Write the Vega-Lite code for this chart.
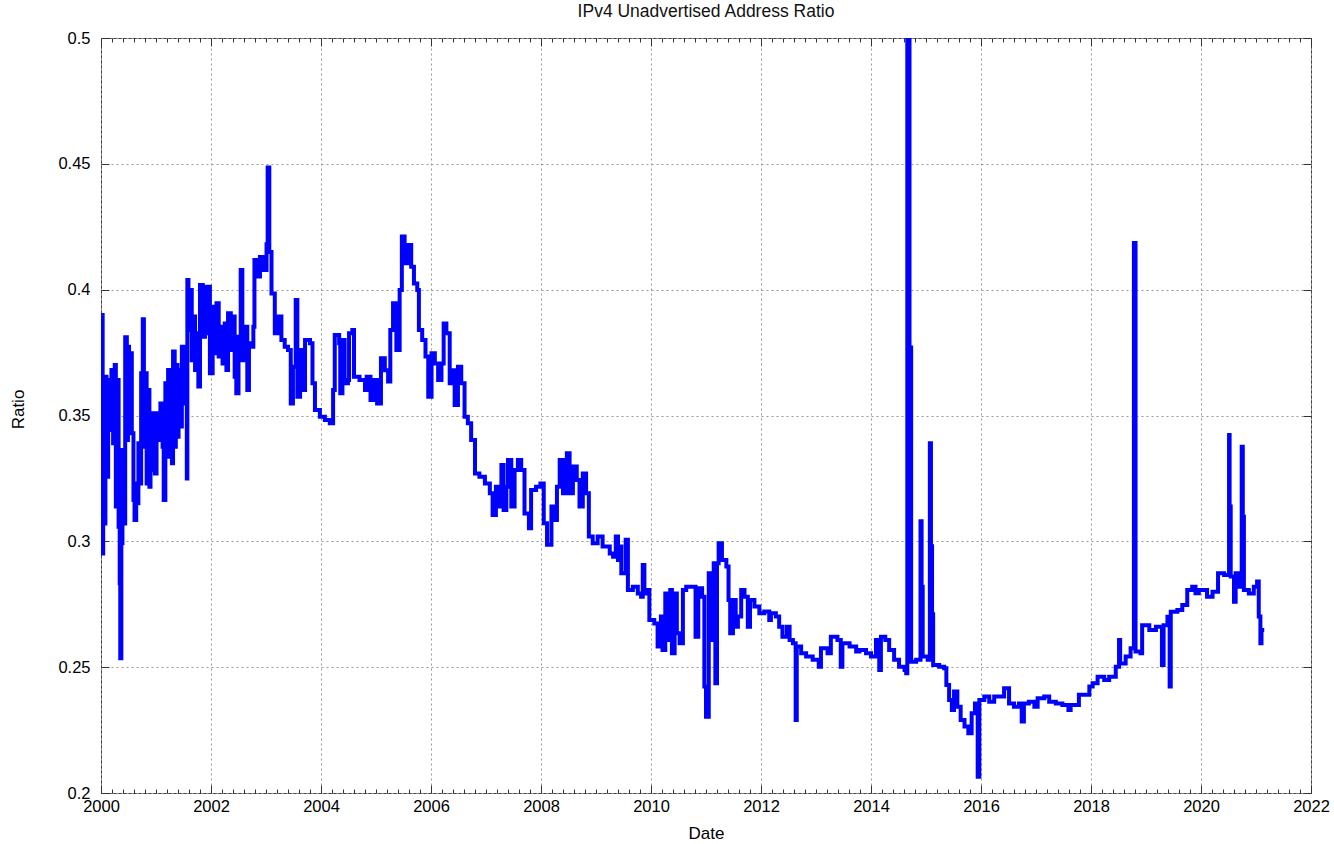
{
  "$schema": "https://vega.github.io/schema/vega-lite/v6.json",
  "width": 1210,
  "height": 755,
  "autosize": {"type": "none"},
  "padding": {"left": 101, "top": 38, "right": 23, "bottom": 51},
  "background": "white",
  "title": {"text": "IPv4 Unadvertised Address Ratio", "fontSize": 17.5, "fontWeight": "normal", "font": "Liberation Sans", "color": "#111111", "offset": 10},
  "config": {"view": {"stroke": "#444444", "strokeWidth": 1}, "font": "Liberation Sans"},
  "data": {"values": [
    {"t":2000.00,"v":0.3363},{"t":2000.018,"v":0.3899},{"t":2000.03,"v":0.2952},{"t":2000.04,"v":0.3469},{"t":2000.06,"v":0.3071},{"t":2000.08,"v":0.3654},{"t":2000.10,"v":0.3257},{"t":2000.13,"v":0.3641},{"t":2000.16,"v":0.3442},{"t":2000.19,"v":0.3681},{"t":2000.22,"v":0.3390},{"t":2000.25,"v":0.3701},{"t":2000.27,"v":0.3138},{"t":2000.30,"v":0.3641},{"t":2000.32,"v":0.3058},{"t":2000.34,"v":0.2833},{"t":2000.35,"v":0.2535},{"t":2000.37,"v":0.2992},{"t":2000.39,"v":0.3363},{"t":2000.42,"v":0.3071},{"t":2000.44,"v":0.3811},{"t":2000.47,"v":0.3403},{"t":2000.49,"v":0.3773},{"t":2000.51,"v":0.3442},{"t":2000.54,"v":0.3747},{"t":2000.56,"v":0.3429},{"t":2000.59,"v":0.3164},{"t":2000.61,"v":0.3085},{"t":2000.64,"v":0.3230},{"t":2000.66,"v":0.3151},{"t":2000.68,"v":0.3390},{"t":2000.71,"v":0.3230},{"t":2000.73,"v":0.3668},{"t":2000.76,"v":0.3882},{"t":2000.78,"v":0.3376},{"t":2000.81,"v":0.3668},{"t":2000.83,"v":0.3230},{"t":2000.85,"v":0.3601},{"t":2000.88,"v":0.3217},{"t":2000.90,"v":0.3469},{"t":2000.93,"v":0.3283},{"t":2000.95,"v":0.3509},{"t":2000.98,"v":0.3270},
    {"t":2001.01,"v":0.3509},{"t":2001.05,"v":0.3403},{"t":2001.08,"v":0.3548},{"t":2001.12,"v":0.3376},{"t":2001.14,"v":0.3164},{"t":2001.17,"v":0.3628},{"t":2001.19,"v":0.3416},{"t":2001.22,"v":0.3681},{"t":2001.24,"v":0.3336},{"t":2001.27,"v":0.3654},{"t":2001.29,"v":0.3310},{"t":2001.31,"v":0.3754},{"t":2001.34,"v":0.3376},{"t":2001.36,"v":0.3701},{"t":2001.39,"v":0.3416},{"t":2001.41,"v":0.3681},{"t":2001.44,"v":0.3456},{"t":2001.47,"v":0.3773},{"t":2001.50,"v":0.3628},{"t":2001.53,"v":0.3548},{"t":2001.56,"v":0.3250},{"t":2001.57,"v":0.4038},{"t":2001.59,"v":0.3840},{"t":2001.62,"v":0.3999},{"t":2001.65,"v":0.3720},{"t":2001.68,"v":0.3893},{"t":2001.71,"v":0.3681},{"t":2001.74,"v":0.3827},{"t":2001.77,"v":0.3615},{"t":2001.80,"v":0.4019},{"t":2001.85,"v":0.3813},{"t":2001.89,"v":0.4012},{"t":2001.92,"v":0.3827},{"t":2001.95,"v":0.4012},{"t":2001.98,"v":0.3668},
    {"t":2002.03,"v":0.3932},{"t":2002.07,"v":0.3747},{"t":2002.10,"v":0.3946},{"t":2002.14,"v":0.3734},{"t":2002.17,"v":0.3853},{"t":2002.21,"v":0.3707},{"t":2002.25,"v":0.3866},{"t":2002.28,"v":0.3681},{"t":2002.31,"v":0.3906},{"t":2002.36,"v":0.3760},{"t":2002.39,"v":0.3893},{"t":2002.43,"v":0.3654},{"t":2002.46,"v":0.3588},{"t":2002.50,"v":0.3813},{"t":2002.54,"v":0.4078},{"t":2002.57,"v":0.3720},{"t":2002.62,"v":0.3853},{"t":2002.66,"v":0.3601},{"t":2002.69,"v":0.3787},{"t":2002.74,"v":0.3773},{"t":2002.77,"v":0.3853},{"t":2002.79,"v":0.4118},{"t":2002.83,"v":0.4052},{"t":2002.89,"v":0.4130},{"t":2002.95,"v":0.4078},
    {"t":2003.01,"v":0.4180},{"t":2003.03,"v":0.4485},{"t":2003.06,"v":0.4150},{"t":2003.10,"v":0.3985},{"t":2003.16,"v":0.3827},{"t":2003.22,"v":0.3893},{"t":2003.28,"v":0.3800},{"t":2003.34,"v":0.3773},{"t":2003.40,"v":0.3760},{"t":2003.45,"v":0.3548},{"t":2003.49,"v":0.3694},{"t":2003.54,"v":0.3959},{"t":2003.57,"v":0.3575},{"t":2003.62,"v":0.3760},{"t":2003.68,"v":0.3601},{"t":2003.71,"v":0.3800},{"t":2003.80,"v":0.3787},{"t":2003.845,"v":0.3628},{"t":2003.89,"v":0.3522},{"t":2003.98,"v":0.3495},
    {"t":2004.07,"v":0.3482},{"t":2004.16,"v":0.3469},{"t":2004.22,"v":0.3601},{"t":2004.25,"v":0.3820},{"t":2004.33,"v":0.3787},{"t":2004.35,"v":0.3588},{"t":2004.39,"v":0.3800},{"t":2004.43,"v":0.3628},{"t":2004.49,"v":0.3641},{"t":2004.51,"v":0.3827},{"t":2004.57,"v":0.3840},{"t":2004.60,"v":0.3654},{"t":2004.70,"v":0.3641},{"t":2004.80,"v":0.3601},{"t":2004.83,"v":0.3654},{"t":2004.90,"v":0.3562},{"t":2004.96,"v":0.3641},
    {"t":2005.02,"v":0.3548},{"t":2005.09,"v":0.3727},{"t":2005.16,"v":0.3680},{"t":2005.22,"v":0.3635},{"t":2005.26,"v":0.3840},{"t":2005.31,"v":0.3946},{"t":2005.37,"v":0.3760},{"t":2005.43,"v":0.3999},{"t":2005.47,"v":0.4211},{"t":2005.52,"v":0.4105},{"t":2005.58,"v":0.4177},{"t":2005.64,"v":0.4091},{"t":2005.69,"v":0.4025},{"t":2005.75,"v":0.3999},{"t":2005.78,"v":0.3840},{"t":2005.84,"v":0.3800},{"t":2005.90,"v":0.3734},{"t":2005.95,"v":0.3575},
    {"t":2006.01,"v":0.3747},{"t":2006.07,"v":0.3707},{"t":2006.13,"v":0.3641},{"t":2006.19,"v":0.3707},{"t":2006.23,"v":0.3866},{"t":2006.28,"v":0.3827},{"t":2006.34,"v":0.3628},{"t":2006.39,"v":0.3680},{"t":2006.43,"v":0.3542},{"t":2006.49,"v":0.3694},{"t":2006.55,"v":0.3628},{"t":2006.61,"v":0.3495},{"t":2006.67,"v":0.3469},{"t":2006.73,"v":0.3403},{"t":2006.80,"v":0.3270},{"t":2006.88,"v":0.3257},{"t":2006.98,"v":0.3230},
    {"t":2007.07,"v":0.3191},{"t":2007.12,"v":0.3105},{"t":2007.18,"v":0.3217},{"t":2007.24,"v":0.3138},{"t":2007.28,"v":0.3303},{"t":2007.32,"v":0.3125},{"t":2007.37,"v":0.3217},{"t":2007.40,"v":0.3323},{"t":2007.46,"v":0.3138},{"t":2007.52,"v":0.3283},{"t":2007.58,"v":0.3323},{"t":2007.64,"v":0.3283},{"t":2007.70,"v":0.3111},{"t":2007.78,"v":0.3052},{"t":2007.82,"v":0.3204},{"t":2007.91,"v":0.3217},{"t":2007.99,"v":0.3230},
    {"t":2008.05,"v":0.3072},{"t":2008.11,"v":0.2986},{"t":2008.19,"v":0.3138},{"t":2008.25,"v":0.3085},{"t":2008.29,"v":0.3217},{"t":2008.34,"v":0.3323},{"t":2008.40,"v":0.3191},{"t":2008.47,"v":0.3350},{"t":2008.52,"v":0.3191},{"t":2008.58,"v":0.3297},{"t":2008.65,"v":0.3244},{"t":2008.70,"v":0.3138},{"t":2008.76,"v":0.3270},{"t":2008.82,"v":0.3191},{"t":2008.87,"v":0.3019},{"t":2008.94,"v":0.2992},
    {"t":2009.03,"v":0.3019},{"t":2009.12,"v":0.2979},{"t":2009.25,"v":0.2952},{"t":2009.31,"v":0.2939},{"t":2009.36,"v":0.3019},{"t":2009.40,"v":0.2926},{"t":2009.43,"v":0.2979},{"t":2009.46,"v":0.2873},{"t":2009.54,"v":0.3006},{"t":2009.58,"v":0.2807},{"t":2009.67,"v":0.2820},{"t":2009.76,"v":0.2793},{"t":2009.82,"v":0.2780},{"t":2009.85,"v":0.2906},{"t":2009.88,"v":0.2793},{"t":2009.94,"v":0.2807},{"t":2009.97,"v":0.2687},
    {"t":2010.06,"v":0.2674},{"t":2010.12,"v":0.2582},{"t":2010.18,"v":0.2701},{"t":2010.21,"v":0.2568},{"t":2010.26,"v":0.2793},{"t":2010.31,"v":0.2608},{"t":2010.35,"v":0.2807},{"t":2010.38,"v":0.2555},{"t":2010.43,"v":0.2793},{"t":2010.47,"v":0.2635},{"t":2010.52,"v":0.2595},{"t":2010.58,"v":0.2807},{"t":2010.64,"v":0.2820},{"t":2010.73,"v":0.2820},{"t":2010.81,"v":0.2621},{"t":2010.86,"v":0.2814},{"t":2010.93,"v":0.2780},{"t":2010.97,"v":0.2423},
    {"t":2011.00,"v":0.2303},{"t":2011.05,"v":0.2873},{"t":2011.09,"v":0.2608},{"t":2011.14,"v":0.2913},{"t":2011.17,"v":0.2436},{"t":2011.20,"v":0.2913},{"t":2011.23,"v":0.2992},{"t":2011.29,"v":0.2926},{"t":2011.37,"v":0.2900},{"t":2011.41,"v":0.2767},{"t":2011.44,"v":0.2635},{"t":2011.49,"v":0.2767},{"t":2011.54,"v":0.2661},{"t":2011.58,"v":0.2701},{"t":2011.64,"v":0.2807},{"t":2011.70,"v":0.2780},{"t":2011.76,"v":0.2661},{"t":2011.80,"v":0.2767},{"t":2011.88,"v":0.2741},{"t":2011.97,"v":0.2714},
    {"t":2012.06,"v":0.2721},{"t":2012.15,"v":0.2687},{"t":2012.18,"v":0.2714},{"t":2012.27,"v":0.2701},{"t":2012.33,"v":0.2661},{"t":2012.39,"v":0.2621},{"t":2012.47,"v":0.2661},{"t":2012.52,"v":0.2608},{"t":2012.58,"v":0.2595},{"t":2012.63,"v":0.2290},{"t":2012.65,"v":0.2582},{"t":2012.73,"v":0.2555},{"t":2012.82,"v":0.2542},{"t":2012.94,"v":0.2529},
    {"t":2013.05,"v":0.2502},{"t":2013.09,"v":0.2575},{"t":2013.21,"v":0.2555},{"t":2013.27,"v":0.2621},{"t":2013.39,"v":0.2608},{"t":2013.45,"v":0.2502},{"t":2013.48,"v":0.2595},{"t":2013.61,"v":0.2582},{"t":2013.73,"v":0.2562},{"t":2013.79,"v":0.2568},{"t":2013.91,"v":0.2555},
    {"t":2014.00,"v":0.2542},{"t":2014.09,"v":0.2608},{"t":2014.15,"v":0.2489},{"t":2014.18,"v":0.2621},{"t":2014.26,"v":0.2608},{"t":2014.33,"v":0.2568},{"t":2014.42,"v":0.2529},{"t":2014.51,"v":0.2502},{"t":2014.61,"v":0.2489},{"t":2014.64,"v":0.2476},{"t":2014.66,"v":0.5000},{"t":2014.70,"v":0.3770},{"t":2014.73,"v":0.2522},{"t":2014.82,"v":0.2529},{"t":2014.90,"v":0.3080},{"t":2014.92,"v":0.2820},{"t":2014.94,"v":0.2542},
    {"t":2015.03,"v":0.2529},{"t":2015.07,"v":0.3390},{"t":2015.09,"v":0.2980},{"t":2015.11,"v":0.2710},{"t":2015.13,"v":0.2509},{"t":2015.24,"v":0.2502},{"t":2015.33,"v":0.2496},{"t":2015.37,"v":0.2429},{"t":2015.42,"v":0.2370},{"t":2015.47,"v":0.2330},{"t":2015.51,"v":0.2403},{"t":2015.57,"v":0.2343},{"t":2015.63,"v":0.2290},{"t":2015.70,"v":0.2264},{"t":2015.77,"v":0.2237},{"t":2015.83,"v":0.2317},{"t":2015.89,"v":0.2356},{"t":2015.94,"v":0.2065},{"t":2015.97,"v":0.2370},
    {"t":2016.06,"v":0.2383},{"t":2016.15,"v":0.2363},{"t":2016.24,"v":0.2383},{"t":2016.33,"v":0.2383},{"t":2016.42,"v":0.2416},{"t":2016.51,"v":0.2356},{"t":2016.60,"v":0.2343},{"t":2016.69,"v":0.2356},{"t":2016.74,"v":0.2284},{"t":2016.78,"v":0.2356},{"t":2016.87,"v":0.2363},{"t":2016.97,"v":0.2343},
    {"t":2017.03,"v":0.2376},{"t":2017.15,"v":0.2383},{"t":2017.24,"v":0.2363},{"t":2017.36,"v":0.2356},{"t":2017.48,"v":0.2350},{"t":2017.59,"v":0.2330},{"t":2017.63,"v":0.2350},{"t":2017.78,"v":0.2390},{"t":2017.97,"v":0.2423},
    {"t":2018.03,"v":0.2436},{"t":2018.12,"v":0.2462},{"t":2018.24,"v":0.2449},{"t":2018.33,"v":0.2462},{"t":2018.45,"v":0.2502},{"t":2018.51,"v":0.2608},{"t":2018.53,"v":0.2515},{"t":2018.63,"v":0.2542},{"t":2018.72,"v":0.2575},{"t":2018.78,"v":0.4185},{"t":2018.81,"v":0.2562},{"t":2018.90,"v":0.2555},{"t":2018.93,"v":0.2667},
    {"t":2019.06,"v":0.2648},{"t":2019.18,"v":0.2661},{"t":2019.29,"v":0.2509},{"t":2019.32,"v":0.2667},{"t":2019.39,"v":0.2700},{"t":2019.43,"v":0.2423},{"t":2019.45,"v":0.2720},{"t":2019.57,"v":0.2727},{"t":2019.66,"v":0.2747},{"t":2019.75,"v":0.2807},{"t":2019.84,"v":0.2820},{"t":2019.90,"v":0.2794},{"t":2019.96,"v":0.2807},
    {"t":2020.11,"v":0.2780},{"t":2020.21,"v":0.2800},{"t":2020.31,"v":0.2873},{"t":2020.42,"v":0.2866},{"t":2020.51,"v":0.3423},{"t":2020.52,"v":0.3138},{"t":2020.54,"v":0.2860},{"t":2020.60,"v":0.2760},{"t":2020.63,"v":0.2873},{"t":2020.70,"v":0.2820},{"t":2020.74,"v":0.3376},{"t":2020.76,"v":0.3098},{"t":2020.78,"v":0.2807},{"t":2020.87,"v":0.2793},{"t":2020.96,"v":0.2820},
    {"t":2021.02,"v":0.2840},{"t":2021.05,"v":0.2701},{"t":2021.08,"v":0.2595},{"t":2021.10,"v":0.2648},{"t":2021.15,"v":0.2648}
  ]},
  "layer": [
    {
      "mark": {"type": "line", "interpolate": "step-after", "color": "#0000ff", "strokeWidth": 4, "clip": true},
      "encoding": {
        "x": {"field": "t", "type": "quantitative",
          "scale": {"domain": [2000, 2022], "nice": false, "zero": false},
          "axis": {"orient": "bottom", "title": "Date", "titleFont": "Liberation Sans", "titleFontSize": 17, "titleFontWeight": "normal", "titleColor": "#000000", "titleBaseline": "middle", "titleY": 40,
            "values": [2000,2000.2,2000.4,2000.6,2000.8,2001,2001.2,2001.4,2001.6,2001.8,2002,2002.2,2002.4,2002.6,2002.8,2003,2003.2,2003.4,2003.6,2003.8,2004,2004.2,2004.4,2004.6,2004.8,2005,2005.2,2005.4,2005.6,2005.8,2006,2006.2,2006.4,2006.6,2006.8,2007,2007.2,2007.4,2007.6,2007.8,2008,2008.2,2008.4,2008.6,2008.8,2009,2009.2,2009.4,2009.6,2009.8,2010,2010.2,2010.4,2010.6,2010.8,2011,2011.2,2011.4,2011.6,2011.8,2012,2012.2,2012.4,2012.6,2012.8,2013,2013.2,2013.4,2013.6,2013.8,2014,2014.2,2014.4,2014.6,2014.8,2015,2015.2,2015.4,2015.6,2015.8,2016,2016.2,2016.4,2016.6,2016.8,2017,2017.2,2017.4,2017.6,2017.8,2018,2018.2,2018.4,2018.6,2018.8,2019,2019.2,2019.4,2019.6,2019.8,2020,2020.2,2020.4,2020.6,2020.8,2021,2021.2,2021.4,2021.6,2021.8,2022],
            "labelExpr": "abs(datum.value - round(datum.value/2)*2) < 0.01 ? format(datum.value, 'd') : ''",
            "labelOverlap": false, "labelFont": "Liberation Sans", "labelFontSize": 16.5, "labelColor": "#000000", "labelPadding": 13, "labelFlush": false,
            "domain": false,
            "tickColor": "#333333",
            "tickSize": {"condition": {"test": "abs(datum.value - round(datum.value/2)*2) < 0.01", "value": -8}, "value": -4},
            "grid": true, "gridColor": "#999999", "gridDash": [2, 3], "gridWidth": 1,
            "gridOpacity": {"condition": {"test": "abs(datum.value - round(datum.value/2)*2) < 0.01", "value": 1}, "value": 0}
          }},
        "y": {"field": "v", "type": "quantitative",
          "scale": {"domain": [0.2, 0.5], "nice": false, "zero": false},
          "axis": {"orient": "left", "title": "Ratio", "titleFont": "Liberation Sans", "titleFontSize": 17, "titleFontWeight": "normal", "titleColor": "#000000", "titleAngle": -90, "titleBaseline": "middle", "titleX": -83, "titleY": 371,
            "values": [0.2, 0.25, 0.3, 0.35, 0.4, 0.45, 0.5], "format": "~g",
            "labelFont": "Liberation Sans", "labelFontSize": 16.5, "labelColor": "#000000", "labelPadding": 19, "labelFlush": false,
            "domain": false, "tickColor": "#333333", "tickSize": -8,
            "grid": true, "gridColor": "#999999", "gridDash": [2, 3], "gridWidth": 1
          }}
      }
    },
    {
      "mark": {"type": "line", "interpolate": "step-after", "strokeOpacity": 0, "clip": true},
      "encoding": {
        "x": {"field": "t", "type": "quantitative",
          "scale": {"domain": [2000, 2022], "nice": false, "zero": false},
          "axis": {"orient": "top", "title": null, "labels": false, "domain": false, "grid": false,
            "values": [2000,2000.2,2000.4,2000.6,2000.8,2001,2001.2,2001.4,2001.6,2001.8,2002,2002.2,2002.4,2002.6,2002.8,2003,2003.2,2003.4,2003.6,2003.8,2004,2004.2,2004.4,2004.6,2004.8,2005,2005.2,2005.4,2005.6,2005.8,2006,2006.2,2006.4,2006.6,2006.8,2007,2007.2,2007.4,2007.6,2007.8,2008,2008.2,2008.4,2008.6,2008.8,2009,2009.2,2009.4,2009.6,2009.8,2010,2010.2,2010.4,2010.6,2010.8,2011,2011.2,2011.4,2011.6,2011.8,2012,2012.2,2012.4,2012.6,2012.8,2013,2013.2,2013.4,2013.6,2013.8,2014,2014.2,2014.4,2014.6,2014.8,2015,2015.2,2015.4,2015.6,2015.8,2016,2016.2,2016.4,2016.6,2016.8,2017,2017.2,2017.4,2017.6,2017.8,2018,2018.2,2018.4,2018.6,2018.8,2019,2019.2,2019.4,2019.6,2019.8,2020,2020.2,2020.4,2020.6,2020.8,2021,2021.2,2021.4,2021.6,2021.8,2022],
            "tickColor": "#333333",
            "tickSize": {"condition": {"test": "abs(datum.value - round(datum.value/2)*2) < 0.01", "value": -8}, "value": -4}
          }},
        "y": {"field": "v", "type": "quantitative",
          "scale": {"domain": [0.2, 0.5], "nice": false, "zero": false},
          "axis": {"orient": "right", "title": null, "labels": false, "domain": false, "grid": false,
            "values": [0.2, 0.25, 0.3, 0.35, 0.4, 0.45, 0.5], "tickColor": "#333333", "tickSize": -8}}
      }
    }
  ],
  "resolve": {"axis": {"x": "independent", "y": "independent"}}
}
